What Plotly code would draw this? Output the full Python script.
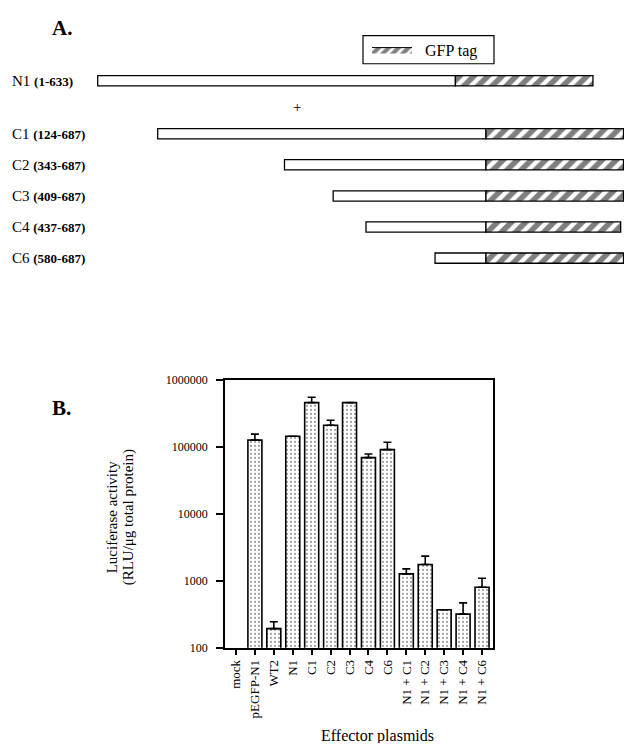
import plotly.graph_objects as go

# ---- panel A: constructs (positions along the schematic, as drawn) ----
constructs = ["N1", "C1", "C2", "C3", "C4", "C6"]
ranges = ["(1-633)", "(124-687)", "(343-687)", "(409-687)", "(437-687)", "(580-687)"]
seg_start = [1, 107, 331, 417, 475, 597]
seg_end = [633, 687, 687, 687, 687, 687]
gfp_len = [243, 243, 243, 243, 238, 243]

# ---- panel B: luciferase activity ----
plasmids = ["mock", "pEGFP-N1", "WT2", "N1", "C1", "C2", "C3", "C4", "C6",
            "N1 + C1", "N1 + C2", "N1 + C3", "N1 + C4", "N1 + C6"]
activity = [None, 126000, 193, 144000, 457000, 210000, 457000, 69000, 91000,
            1270, 1750, 370, 318, 800]
err_up = [None, 29000, 52, None, 93000, 40000, None, 9000, 26000,
          240, 590, None, 150, 290]

SERIF = "Liberation Serif, Times New Roman, serif"
# page body has an 8px margin, so the figure is a bit smaller and offset
OFF = 8
W, H = 624, 735
SY, CY = 0.9775, 8.6   # vertical correction measured on the rendered page


def px(x):
    return (x - OFF) / W


def py(y):
    y = (y - CY) / SY
    return 1 - (y - OFF) / H


fig = go.Figure()

# row layout: N1 on top, then a gap for the "+", then the C constructs
row_pos = [0] + [i + 0.7 for i in range(1, len(constructs))]

fig.add_trace(go.Bar(
    orientation="h", y=row_pos,
    x=[e - s for s, e in zip(seg_start, seg_end)], base=seg_start,
    width=0.33, marker=dict(color="white", line=dict(color="black", width=1.3)),
    xaxis="x2", yaxis="y2", showlegend=False, hoverinfo="skip"))

fig.add_trace(go.Bar(
    orientation="h", y=row_pos, x=gfp_len, base=seg_end,
    width=0.33,
    marker=dict(color="white", line=dict(color="black", width=1.3),
                pattern=dict(shape="/", fgcolor="black", bgcolor="white",
                             size=10, solidity=0.55)),
    xaxis="x2", yaxis="y2", showlegend=False, hoverinfo="skip"))

# legend swatch for the GFP tag
fig.add_trace(go.Scatter(
    x=[None], y=[None], mode="lines", fill="toself", name="\u00a0\u00a0GFP tag",
    fillcolor="white", line=dict(color="black", width=1),
    fillpattern=dict(shape="/", fgcolor="black", bgcolor="white", size=7, solidity=0.6),
    xaxis="x2", yaxis="y2"))

for name, rng, y in zip(constructs, ranges, row_pos):
    fig.add_annotation(
        x=px(10), xref="paper", y=y, yref="y2", xanchor="left", yanchor="middle",
        showarrow=False,
        text=f"{name} <span style='font-size:13px'><b>{rng}</b></span>",
        font=dict(family=SERIF, size=15, color="black"))

fig.add_annotation(x=353, xref="x2", y=(row_pos[0] + row_pos[1]) / 2, yref="y2",
                   xanchor="center", yanchor="middle",
                   text="+", showarrow=False, font=dict(family=SERIF, size=15, color="black"))

# ---- panel B bars ----
fig.add_trace(go.Bar(
    x=plasmids, y=activity, width=0.74,
    marker=dict(color="white", line=dict(color="black", width=1.6),
                pattern=dict(shape=".", fgcolor="#222", bgcolor="white",
                             size=4, solidity=0.22)),
    error_y=dict(type="data", symmetric=False, array=err_up,
                 arrayminus=[0] * len(plasmids), color="black",
                 thickness=1.6, width=4),
    showlegend=False, hoverinfo="skip"))

# schematic rows: row 0 sits at y=82px, 31px per unit (reference pixels)
y2_top, y2_bot = 20, 300

fig.update_layout(
    width=W, height=H, margin=dict(l=0, r=0, t=0, b=0),
    paper_bgcolor="white", plot_bgcolor="white",
    font=dict(family=SERIF, color="black"),
    barmode="overlay",
    xaxis=dict(domain=[px(225), px(493)], range=[-0.58, 13.58], type="category",
               showline=True, linecolor="black", linewidth=1.8, mirror=True,
               ticks="outside", ticklen=5, tickwidth=1.5, tickcolor="black",
               tickangle=-90, tickfont=dict(family=SERIF, size=13),
               showgrid=False, zeroline=False),
    yaxis=dict(domain=[py(647), py(380)], type="log", range=[2, 6],
               tickvals=[100, 1000, 10000, 100000, 1000000],
               ticktext=["100", "1000", "10000", "100000", "1000000"],
               showline=True, linecolor="black", linewidth=1.8, mirror=True,
               ticks="outside", ticklen=7, tickwidth=1.5, tickcolor="black",
               ticklabelstandoff=6, tickfont=dict(family=SERIF, size=12),
               showgrid=False, zeroline=False),
    xaxis2=dict(domain=[0, 1], range=[-157.5, 945], visible=False,
                anchor="y2", fixedrange=True),
    yaxis2=dict(domain=[py(y2_bot), py(y2_top)],
                range=[(y2_bot - 82) / 31, (y2_top - 82) / 31], visible=False,
                anchor="x2", fixedrange=True),
    showlegend=True,
    legend=dict(x=px(367), y=py(51), xanchor="left", yanchor="middle",
                borderwidth=0, bgcolor="rgba(0,0,0,0)",
                itemwidth=40, font=dict(family=SERIF, size=16, color="black")),
)

# legend frame
fig.add_shape(type="rect", xref="paper", yref="paper",
              x0=px(363), x1=px(494), y0=py(65), y1=py(37),
              line=dict(color="black", width=1.2))

fig.add_annotation(x=px(51), y=1, xref="paper", yref="paper",
                   xanchor="left", yanchor="top", borderpad=0,
                   text="<b>A.</b>", showarrow=False, font=dict(family=SERIF, size=21))
fig.add_annotation(x=px(50), y=py(408), xref="paper", yref="paper",
                   xanchor="left", yanchor="middle",
                   text="<b>B.</b>", showarrow=False, font=dict(family=SERIF, size=21))
fig.add_annotation(x=px(112), y=py(517), xref="paper", yref="paper", textangle=-90,
                   xanchor="center", yanchor="middle",
                   text="Luciferase activity", showarrow=False,
                   font=dict(family=SERIF, size=15))
fig.add_annotation(x=px(128), y=py(517), xref="paper", yref="paper", textangle=-90,
                   xanchor="center", yanchor="middle",
                   text="(RLU/μg total protein)", showarrow=False,
                   font=dict(family=SERIF, size=15))
fig.add_annotation(x=px(377), y=py(735), xref="paper", yref="paper",
                   xanchor="center", yanchor="middle",
                   text="Effector plasmids", showarrow=False,
                   font=dict(family=SERIF, size=16))

fig.write_html("out.html")
